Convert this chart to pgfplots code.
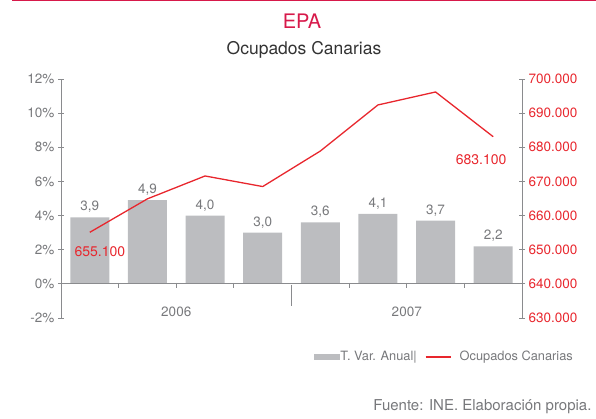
\documentclass[border=0pt]{standalone}
\usepackage{pgfplots}
\pgfplotsset{compat=1.18}
\usepackage{fontspec}
\setmainfont{TeX Gyre Heros}
\definecolor{bargray}{HTML}{BCBDC0}
\definecolor{txtgray}{HTML}{77787B}
\definecolor{linered}{HTML}{E8262D}
\definecolor{titlered}{HTML}{D7194A}
\definecolor{axgray}{HTML}{8A8B8E}
\begin{document}
\begin{tikzpicture}[x=1pt,y=1pt]
\path[use as bounding box] (0,0) rectangle (596,418);
\fill[titlered] (12,416.5) rectangle (596,418);
\node[titlered, font=\fontsize{20}{20}\selectfont] at (302,397) {EPA};
\node[black!80, font=\fontsize{17.5}{17.5}\selectfont] at (304,368) {Ocupados Canarias};
\node[txtgray, anchor=east, font=\fontsize{15}{15}\selectfont] at (595,11) {Fuente: INE. Elaboración propia.};
\begin{axis}[
  at={(61pt,100pt)}, anchor=south west, scale only axis,
  width=461pt, height=239pt,
  xmin=-0.5, xmax=7.5, ymin=-2, ymax=12,
  axis y line*=left, axis x line=none,
  y axis line style={axgray, line width=1pt},
  ytick={-2,0,2,4,6,8,10,12},
  yticklabels={-2\%,0\%,2\%,4\%,6\%,8\%,10\%,12\%},
  tick style={axgray, line width=0.8pt},
  major tick length=6pt, tick align=center,
  yticklabel style={txtgray, font=\fontsize{13.5}{13.5}\selectfont},
  ybar, bar width=39pt,
  clip=false,
  nodes near coords={\pgfmathprintnumber[fixed,fixed zerofill,precision=1,use comma,assume math mode=true]{\pgfplotspointmeta}},
  every node near coord/.append style={txtgray, font=\fontsize{13.5}{13.5}\selectfont, yshift=1pt},
]
\addplot[fill=bargray, draw=none] coordinates {(0,3.9) (1,4.9) (2,4.0) (3,3.0) (4,3.6) (5,4.1) (6,3.7) (7,2.2)};
\draw[axgray, line width=1pt] (axis cs:-0.5,0) -- (axis cs:7.5,0);
\pgfplotsinvokeforeach{0.5,1.5,2.5,4.5,5.5,6.5}{
  \draw[axgray, line width=0.8pt] (axis cs:#1,0) ++(0pt,1pt) -- ++(0pt,-5pt);
}
\draw[axgray, line width=1pt] (axis cs:3.5,0) ++(0pt,-1pt) -- ++(0pt,-21pt);
\node[txtgray, font=\fontsize{13.5}{13.5}\selectfont] at ([yshift=-28pt]axis cs:1.5,0) {2006};
\node[txtgray, font=\fontsize{13.5}{13.5}\selectfont] at ([yshift=-28pt]axis cs:5.5,0) {2007};
\end{axis}
\begin{axis}[
  at={(61pt,100pt)}, anchor=south west, scale only axis,
  width=461pt, height=239pt,
  xmin=-0.5, xmax=7.5, ymin=630000, ymax=700000,
  scaled y ticks=false,
  axis y line*=right, axis x line=none,
  y axis line style={axgray, line width=1pt},
  ytick={630000,640000,650000,660000,670000,680000,690000,700000},
  yticklabels={630.000,640.000,650.000,660.000,670.000,680.000,690.000,700.000},
  tick style={axgray, line width=0.8pt},
  major tick length=6pt, tick align=center,
  yticklabel style={linered, font=\fontsize{13.5}{13.5}\selectfont},
  clip=false,
  legend columns=2,
  legend style={at={(0.542,-0.163)}, anchor=west, draw=none, fill=none,
    font=\fontsize{12.8}{12.8}\selectfont, text=txtgray,
    nodes={inner sep=1pt}},
]
\addlegendimage{legend image code/.code={\fill[bargray] (0pt,-2.5pt) rectangle (25pt,2.5pt);}}
\addlegendentry{T. Var. Anual|}
\addplot[linered, line width=1.3pt, mark=none,
  legend image code/.code={\path[draw=none] (0pt,0pt) -- (41pt,0pt);\draw[linered, line width=1.3pt] (8pt,0pt) -- (33pt,0pt);}]
  coordinates {(0,655100) (1,664900) (2,671600) (3,668500) (4,678900) (5,692400) (6,696200) (7,683100)};
\addlegendentry{Ocupados Canarias}
\node[linered, font=\fontsize{14}{14}\selectfont] at ([xshift=10pt,yshift=-19pt]axis cs:0,655100) {655.100};
\node[linered, font=\fontsize{14}{14}\selectfont] at ([xshift=-12pt,yshift=-23pt]axis cs:7,683100) {683.100};
\end{axis}
\end{tikzpicture}
\end{document}
